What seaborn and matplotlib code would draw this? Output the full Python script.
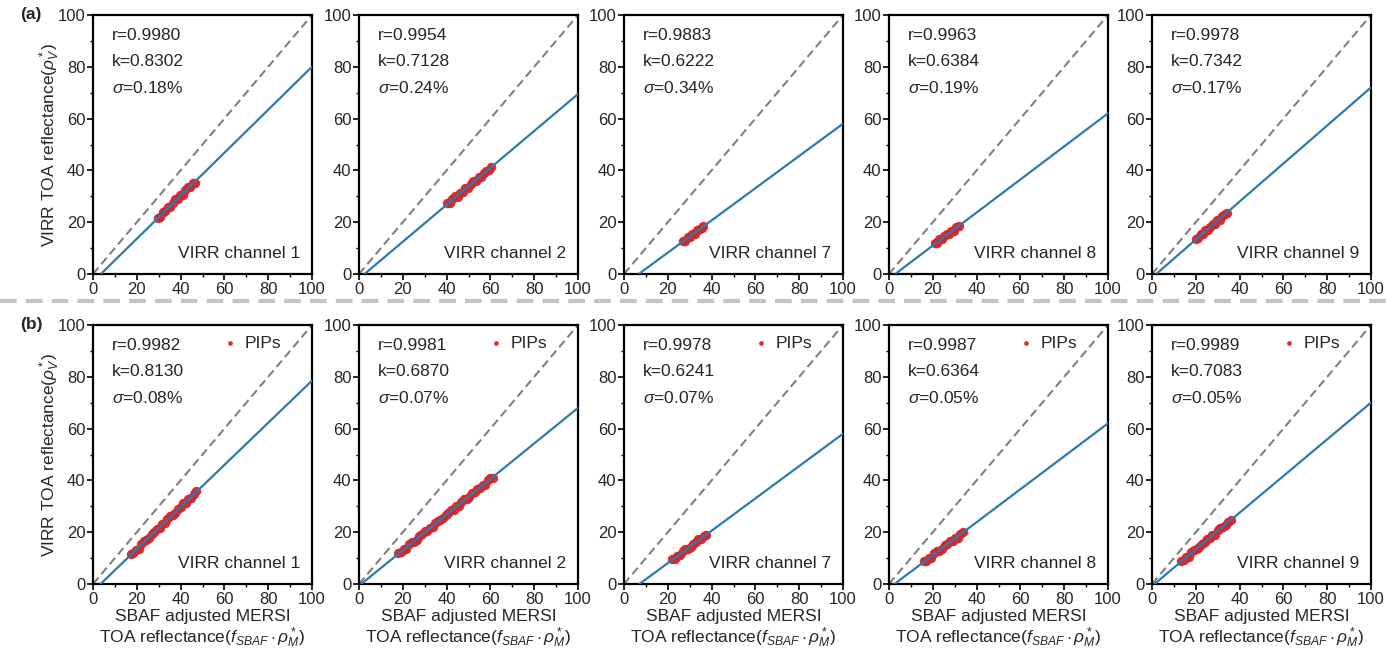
import matplotlib
matplotlib.use("Agg")
import matplotlib.pyplot as plt
from matplotlib.lines import Line2D
from matplotlib.ticker import MultipleLocator
import seaborn as sns
import pandas as pd

# ---------------- data ----------------
channels = ["VIRR channel 1", "VIRR channel 2", "VIRR channel 7", "VIRR channel 8", "VIRR channel 9"]

# row (a) statistics
a_r = ["0.9980", "0.9954", "0.9883", "0.9963", "0.9978"]
a_k = [0.8302, 0.7128, 0.6222, 0.6384, 0.7342]
a_b = [-3.0, -1.8, -4.2, -1.8, -1.4]
a_sigma = ["0.18", "0.24", "0.34", "0.19", "0.17"]

# row (b) statistics
b_r = ["0.9982", "0.9981", "0.9978", "0.9987", "0.9989"]
b_k = [0.8130, 0.6870, 0.6241, 0.6364, 0.7083]
b_b = [-2.8, -0.7, -4.4, -1.6, -0.8]
b_sigma = ["0.08", "0.07", "0.07", "0.05", "0.05"]

# row (a) scatter points
a1_x = [29.5, 30.6, 31.8, 33.0, 34.1, 35.3, 36.4, 37.6, 38.7, 39.9, 41.0, 42.2, 43.3, 44.5, 45.6, 46.5]
a1_y = [21.8, 22.0, 23.9, 24.2, 25.9, 25.8, 27.4, 28.9, 28.8, 30.5, 30.4, 32.3, 33.4, 33.5, 35.1, 35.3]
a2_x = [40.2, 41.4, 42.6, 43.8, 45.0, 46.2, 47.4, 48.6, 49.8, 51.0, 52.2, 53.4, 54.6, 55.8, 57.0, 58.2, 59.4, 60.3]
a2_y = [27.3, 27.4, 28.8, 30.0, 29.8, 31.4, 31.8, 33.3, 33.3, 34.8, 36.0, 36.0, 37.5, 37.5, 39.1, 39.9, 40.1, 41.3]
a3_x = [26.8, 27.9, 29.0, 30.1, 31.2, 32.3, 33.4, 34.5, 35.6, 36.3]
a3_y = [12.8, 12.9, 14.3, 14.3, 15.6, 15.5, 16.9, 17.5, 17.7, 18.5]
a4_x = [20.8, 21.9, 23.0, 24.1, 25.2, 26.3, 27.4, 28.5, 29.6, 30.7, 31.8]
a4_y = [11.8, 11.8, 13.4, 13.4, 14.6, 15.4, 15.4, 16.6, 16.7, 18.1, 18.4]
a5_x = [20.0, 21.1, 22.2, 23.3, 24.4, 25.5, 26.6, 27.7, 28.8, 29.9, 31.0, 32.1, 33.2, 34.2]
a5_y = [13.6, 13.8, 15.3, 15.5, 17.0, 16.9, 18.3, 19.2, 19.4, 20.8, 21.0, 22.5, 23.1, 23.5]

# row (b) scatter points (PIPs)
b1_x = [17.2, 18.4, 19.6, 20.8, 22.0, 23.2, 24.4, 25.6, 26.8, 28.0, 29.2, 30.4, 31.6, 32.8, 34.0, 35.2,
        36.4, 37.6, 38.8, 40.0, 41.2, 42.4, 43.6, 44.8, 46.0, 47.0]
b1_y = [11.6, 11.9, 13.3, 13.6, 15.4, 16.6, 16.8, 17.6, 19.3, 20.1, 21.3, 21.6, 23.1, 23.4, 25.1, 26.3,
        26.6, 27.4, 29.0, 29.8, 31.1, 31.4, 32.8, 33.1, 34.9, 35.9]
b2_x = [18.0, 19.2, 20.4, 21.6, 22.8, 24.0, 25.2, 26.4, 27.6, 28.8, 30.0, 31.2, 32.4, 33.6, 34.8, 36.0,
        37.2, 38.4, 39.6, 40.8, 42.0, 43.2, 44.4, 45.6, 46.8, 48.0, 49.2, 50.4, 51.6, 52.8, 54.0, 55.2,
        56.4, 57.6, 58.8, 60.0, 61.0]
b2_y = [12.1, 12.2, 13.5, 13.6, 15.3, 16.3, 16.4, 17.0, 18.6, 19.2, 20.3, 20.4, 21.8, 21.9, 23.5, 24.5,
        24.7, 25.3, 26.8, 27.4, 28.6, 28.7, 30.0, 30.1, 31.8, 32.8, 32.9, 33.5, 35.1, 35.7, 36.8, 36.9,
        38.2, 38.4, 40.0, 41.0, 41.0]
b3_x = [22.0, 23.2, 24.4, 25.6, 26.8, 28.0, 29.2, 30.4, 31.6, 32.8, 34.0, 35.2, 36.4, 37.6]
b3_y = [9.7, 9.8, 11.0, 11.1, 12.6, 13.6, 13.6, 14.2, 15.6, 16.2, 17.2, 17.3, 18.5, 19.0]
b4_x = [15.8, 17.0, 18.2, 19.4, 20.6, 21.8, 23.0, 24.2, 25.4, 26.6, 27.8, 29.0, 30.2, 31.4, 32.6, 33.8]
b4_y = [8.9, 8.9, 10.2, 10.2, 11.8, 12.8, 12.8, 13.4, 14.9, 15.4, 16.5, 16.6, 17.8, 17.9, 19.4, 20.0]
b5_x = [13.2, 14.4, 15.6, 16.8, 18.0, 19.2, 20.4, 21.6, 22.8, 24.0, 25.2, 26.4, 27.6, 28.8, 30.0, 31.2,
        32.4, 33.6, 34.8, 36.0]
b5_y = [8.9, 9.1, 10.4, 10.6, 12.2, 13.3, 13.4, 14.1, 15.6, 16.3, 17.4, 17.6, 18.9, 19.1, 20.7, 21.8,
        21.9, 22.6, 24.1, 24.8]

a_pts = [(a1_x, a1_y), (a2_x, a2_y), (a3_x, a3_y), (a4_x, a4_y), (a5_x, a5_y)]
b_pts = [(b1_x, b1_y), (b2_x, b2_y), (b3_x, b3_y), (b4_x, b4_y), (b5_x, b5_y)]

ticks = [0, 20, 40, 60, 80, 100]

# ---------------- style ----------------
sns.set_theme(style="ticks")
plt.rcParams["font.family"] = ["Liberation Sans", "DejaVu Sans"]
plt.rcParams["mathtext.fontset"] = "custom"
plt.rcParams["mathtext.rm"] = "Liberation Sans"
plt.rcParams["mathtext.it"] = "Liberation Sans:italic"
plt.rcParams["mathtext.bf"] = "Liberation Sans:bold"

RED = "#d7262b"
BLUE = "#2c7bb0"
GRAY = "#808080"
FS = 12.5

fig = plt.figure(figsize=(13.86, 6.5), dpi=100)

W, H = 1386.0, 650.0
lefts = [93, 359, 624, 889, 1152]
ax_w = 219
row_tops = [15, 325]
ax_h = 259


def draw_panel(ax, pts, k, b, r, sig, chan, legend):
    x, y = pts
    df = pd.DataFrame({"x": x, "y": y})
    # 1:1 line
    sns.lineplot(x=[0, 100], y=[0, 100], ax=ax, color=GRAY, lw=1.5,
                 dashes=False, linestyle=(0, (4, 2.2)), zorder=2)
    sns.scatterplot(data=df, x="x", y="y", ax=ax, color=RED, s=46, linewidth=0,
                    alpha=0.95, zorder=3, label="PIPs" if legend else None, legend=legend)
    x0 = -b / k
    sns.lineplot(x=[x0, 100], y=[0, k * 100 + b], ax=ax, color=BLUE, lw=1.6, zorder=4)
    ax.set_xlim(0, 100)
    ax.set_ylim(0, 100)
    ax.xaxis.set_minor_locator(MultipleLocator(10))
    ax.yaxis.set_minor_locator(MultipleLocator(10))
    ax.set_xticks(ticks)
    ax.set_yticks(ticks)
    ax.tick_params(which="major", direction="out", length=4, width=1.2, labelsize=12, pad=1.5, color="black")
    ax.tick_params(which="minor", direction="out", length=2.5, width=1.0, color="black")
    for sp in ax.spines.values():
        sp.set_visible(True)
        sp.set_linewidth(1.6)
        sp.set_color("black")
    ax.set_xlabel("")
    ax.set_ylabel("")
    ax.text(0.085, 0.92, f"r={r}", transform=ax.transAxes, fontsize=FS, va="center", ha="left")
    ax.text(0.085, 0.82, f"k={k:.4f}", transform=ax.transAxes, fontsize=FS, va="center", ha="left")
    ax.text(0.085, 0.72, r"$\sigma$" + f"={sig}%", transform=ax.transAxes, fontsize=FS, va="center", ha="left")
    ax.text(0.945, 0.08, chan, transform=ax.transAxes, fontsize=FS, va="center", ha="right")
    if legend:
        ax.legend(loc="upper right", frameon=False, fontsize=FS, handletextpad=-0.2,
                  borderaxespad=0.2, markerscale=0.5, bbox_to_anchor=(0.905, 1.0))
    elif ax.get_legend() is not None:
        ax.get_legend().remove()


for row in range(2):
    for i in range(5):
        rect = [lefts[i] / W, (H - row_tops[row] - ax_h) / H, ax_w / W, ax_h / H]
        ax = fig.add_axes(rect)
        if row == 0:
            draw_panel(ax, a_pts[i], a_k[i], a_b[i], a_r[i], a_sigma[i], channels[i], False)
        else:
            draw_panel(ax, b_pts[i], b_k[i], b_b[i], b_r[i], b_sigma[i], channels[i], True)
            ax.set_xlabel("SBAF adjusted MERSI\nTOA reflectance($f_{SBAF}\\cdot\\rho_M^*$)",
                          fontsize=FS, linespacing=1.12, labelpad=1.5)
        if i == 0:
            ax.set_ylabel(r"VIRR TOA reflectance($\rho_V^*$)", fontsize=FS, labelpad=-3)

fig.text(20 / W, 1 - 15 / H, "(a)", fontsize=FS, fontweight="bold", va="center", ha="left")
fig.text(20 / W, 1 - 325 / H, "(b)", fontsize=FS, fontweight="bold", va="center", ha="left")

sep_y = 1 - 301 / H
fig.add_artist(Line2D([0, 1], [sep_y, sep_y], transform=fig.transFigure, color="#c4c4c4",
                      lw=3, linestyle=(0, (4, 2.2))))

fig.savefig("out.png", dpi=100)
